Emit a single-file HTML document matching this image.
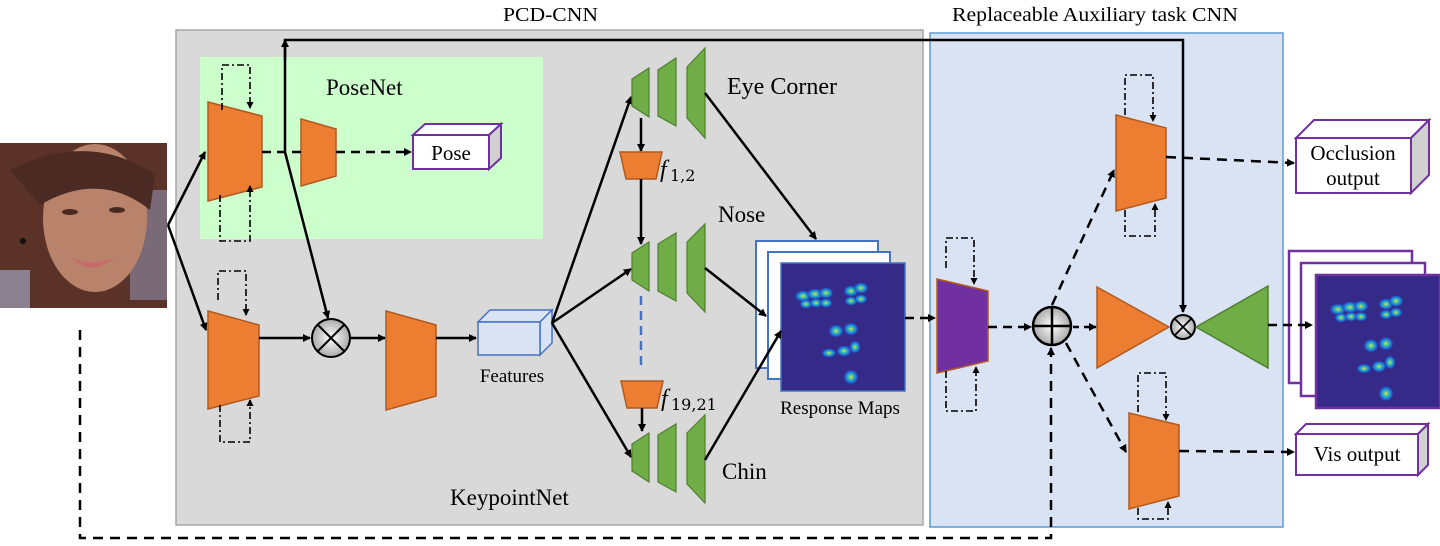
<!DOCTYPE html>
<html><head><meta charset="utf-8"><style>
html,body{margin:0;padding:0;background:#fff;}
svg{display:block;font-family:"Liberation Serif",serif;}
</style></head><body>
<svg width="1440" height="546" viewBox="0 0 1440 546" xmlns="http://www.w3.org/2000/svg">
<defs>
<marker id="a" markerWidth="8" markerHeight="8" refX="7" refY="4" orient="auto" markerUnits="userSpaceOnUse"><path d="M0,0 L8,4 L0,8 z" fill="#000"/></marker>
<marker id="s" markerWidth="7" markerHeight="7" refX="6" refY="3.5" orient="auto" markerUnits="userSpaceOnUse"><path d="M0,0 L7,3.5 L0,7 z" fill="#000"/></marker>
<radialGradient id="cg" cx="50%" cy="50%" r="50%"><stop offset="0" stop-color="#fff"/><stop offset="1" stop-color="#aaa"/></radialGradient>
<radialGradient id="blob" cx="50%" cy="50%" r="50%"><stop offset="0" stop-color="#f5e11e"/><stop offset="0.3" stop-color="#3cc0b0"/><stop offset="0.7" stop-color="#1a6be0"/><stop offset="1" stop-color="#352a87" stop-opacity="0"/></radialGradient>
<g id="heat">
<rect x="0" y="0" width="124" height="128" fill="#352a87"/>
<ellipse cx="22" cy="33" rx="9" ry="6" fill="url(#blob)"/><ellipse cx="34" cy="31" rx="9" ry="6" fill="url(#blob)"/><ellipse cx="45" cy="30" rx="8" ry="6" fill="url(#blob)"/>
<ellipse cx="25" cy="41" rx="7" ry="5" fill="url(#blob)"/><ellipse cx="35" cy="40" rx="7" ry="5" fill="url(#blob)"/><ellipse cx="45" cy="40" rx="7" ry="5" fill="url(#blob)"/>
<ellipse cx="70" cy="28" rx="8" ry="6" fill="url(#blob)"/><ellipse cx="80" cy="25" rx="8" ry="6" fill="url(#blob)"/><ellipse cx="70" cy="38" rx="7" ry="5" fill="url(#blob)"/><ellipse cx="80" cy="36" rx="7" ry="5" fill="url(#blob)"/>
<ellipse cx="55" cy="68" rx="8" ry="7" fill="url(#blob)"/><ellipse cx="70" cy="66" rx="8" ry="7" fill="url(#blob)"/>
<ellipse cx="48" cy="90" rx="8" ry="5" fill="url(#blob)"/><ellipse cx="63" cy="88" rx="8" ry="6" fill="url(#blob)"/><ellipse cx="74" cy="84" rx="6" ry="7" fill="url(#blob)"/>
<ellipse cx="70" cy="114" rx="8" ry="8" fill="url(#blob)"/>
</g>
</defs>

<text x="503" y="21" font-size="20" textLength="95" lengthAdjust="spacingAndGlyphs">PCD-CNN</text>
<text x="952" y="21" font-size="20" textLength="286" lengthAdjust="spacingAndGlyphs">Replaceable Auxiliary task CNN</text>

<rect x="176" y="30" width="747" height="495" fill="#d9d9d9" stroke="#a6a6a6" stroke-width="1.5"/>
<rect x="930" y="33" width="353" height="494" fill="#dae3f3" stroke="#5b9bd5" stroke-width="1.5"/>
<rect x="200" y="57" width="343" height="182" fill="#ccffcc"/>

<!-- face -->
<rect x="0" y="143" width="167" height="165" fill="#5a3228"/>
<rect x="130" y="190" width="37" height="110" fill="#7a6a78"/>
<ellipse cx="95" cy="218" rx="52" ry="74" fill="#b9826a"/>
<path d="M10,170 Q90,130 155,175 L150,210 Q100,170 40,205 Z" fill="#4a2a22"/>
<ellipse cx="70" cy="212" rx="8" ry="3" fill="#4a2a20"/><ellipse cx="117" cy="210" rx="8" ry="3" fill="#4a2a20"/>
<path d="M70,257 Q92,268 115,257 Q92,278 70,257 Z" fill="#c86a6a"/>
<rect x="0" y="270" width="30" height="38" fill="#8a8090"/>
<circle cx="23" cy="241" r="3" fill="#111"/>

<text x="326" y="95" font-size="23">PoseNet</text>
<polygon points="208,102 262,116 262,187 208,201" fill="#ed7d31" stroke="#b05a20" stroke-width="1.5"/>
<polygon points="301,119 336,129 336,176 301,186" fill="#ed7d31" stroke="#b05a20" stroke-width="1.5"/>
<path d="M222,110 V65 H250 V108" fill="none" stroke="#000" stroke-width="1.6" stroke-dasharray="7,3,2,3" marker-end="url(#s)"/>
<path d="M220,195 V241 H250 V186" fill="none" stroke="#000" stroke-width="1.6" stroke-dasharray="7,3,2,3" marker-end="url(#s)"/>
<line x1="262" y1="152" x2="301" y2="152" stroke="#000" stroke-width="2.5" stroke-dasharray="9,6"/>
<line x1="336" y1="152" x2="411" y2="152" stroke="#000" stroke-width="2.5" stroke-dasharray="9,6" marker-end="url(#a)"/>
<polygon points="413,135 425,124 501,124 489,135" fill="#fff" stroke="#7030a0" stroke-width="2"/>
<polygon points="489,135 501,124 501,158 489,169" fill="#d0d0d0" stroke="#7030a0" stroke-width="2"/>
<rect x="413" y="135" width="76" height="34" fill="#fff" stroke="#7030a0" stroke-width="2"/>
<text x="451" y="160" font-size="21" text-anchor="middle">Pose</text>

<line x1="168" y1="225" x2="205" y2="152" stroke="#000" stroke-width="2.5" marker-end="url(#a)"/>
<line x1="168" y1="225" x2="206" y2="330" stroke="#000" stroke-width="2.5" marker-end="url(#a)"/>

<path d="M285,152 V40 H1183 V312" fill="none" stroke="#000" stroke-width="2.5" marker-end="url(#a)"/>
<line x1="285" y1="60" x2="285" y2="40" stroke="#000" stroke-width="2.5" marker-end="url(#a)"/>
<line x1="285" y1="152" x2="328" y2="318" stroke="#000" stroke-width="2.5" marker-end="url(#a)"/>

<polygon points="208,311 259,325 259,396 208,409" fill="#ed7d31" stroke="#b05a20" stroke-width="1.5"/>
<path d="M218,300 V271 H246 V315" fill="none" stroke="#000" stroke-width="1.6" stroke-dasharray="7,3,2,3" marker-end="url(#s)"/>
<path d="M220,405 V442 H250 V400" fill="none" stroke="#000" stroke-width="1.6" stroke-dasharray="7,3,2,3" marker-end="url(#s)"/>
<line x1="259" y1="338" x2="310" y2="338" stroke="#000" stroke-width="2.5" marker-end="url(#a)"/>
<circle cx="331" cy="338" r="19" fill="url(#cg)" stroke="#000" stroke-width="2"/>
<line x1="318" y1="325" x2="344" y2="351" stroke="#000" stroke-width="2"/><line x1="344" y1="325" x2="318" y2="351" stroke="#000" stroke-width="2"/>
<line x1="350" y1="338" x2="385" y2="338" stroke="#000" stroke-width="2.5" marker-end="url(#a)"/>
<polygon points="386,311 436,325 436,396 386,410" fill="#ed7d31" stroke="#b05a20" stroke-width="1.5"/>
<line x1="436" y1="338" x2="476" y2="338" stroke="#000" stroke-width="2.5" marker-end="url(#a)"/>
<polygon points="478,322 490,310 552,310 540,322" fill="#dae3f3" stroke="#4472c4" stroke-width="1.5"/>
<polygon points="540,322 552,310 552,343 540,355" fill="#dae3f3" stroke="#4472c4" stroke-width="1.5"/>
<rect x="478" y="322" width="62" height="33" fill="#dae3f3" stroke="#4472c4" stroke-width="1.5"/>
<text x="512" y="382" font-size="19" text-anchor="middle">Features</text>
<text x="450" y="505" font-size="23">KeypointNet</text>

<line x1="552" y1="323" x2="631" y2="97" stroke="#000" stroke-width="2.5" marker-end="url(#a)"/>
<line x1="552" y1="323" x2="631" y2="269" stroke="#000" stroke-width="2.5" marker-end="url(#a)"/>
<line x1="552" y1="323" x2="631" y2="457" stroke="#000" stroke-width="2.5" marker-end="url(#a)"/>
<g fill="#70ad47" stroke="#507e32" stroke-width="1.2">
<polygon points="632,79 649,68 649,117 632,106"/><polygon points="658,70 676,58 676,126 658,116"/><polygon points="687,67 705,48 705,138 687,118"/>
<polygon points="632,253 649,242 649,291 632,280"/><polygon points="658,244 676,233 676,301 658,291"/><polygon points="687,242 705,224 705,312 687,293"/>
<polygon points="632,444 649,433 649,482 632,471"/><polygon points="658,435 676,424 676,492 658,482"/><polygon points="687,433 705,415 705,503 687,484"/>
</g>
<text x="727" y="94" font-size="24">Eye Corner</text>
<text x="718" y="222" font-size="23">Nose</text>
<text x="722" y="479" font-size="23">Chin</text>
<line x1="641" y1="118" x2="641" y2="151" stroke="#000" stroke-width="2.5" marker-end="url(#a)"/>
<polygon points="620,152 662,152 656,179 626,179" fill="#ed7d31" stroke="#b05a20" stroke-width="1.5"/>
<text x="660" y="177" font-size="24" font-style="italic">f</text><text x="670" y="181" font-size="16" font-family="DejaVu Serif">1,2</text>
<line x1="641" y1="179" x2="641" y2="244" stroke="#000" stroke-width="2.5" marker-end="url(#a)"/>
<line x1="641" y1="296" x2="641" y2="370" stroke="#4472c4" stroke-width="2.5" stroke-dasharray="9,6"/>
<polygon points="621,381 663,381 657,408 627,408" fill="#ed7d31" stroke="#b05a20" stroke-width="1.5"/>
<text x="661" y="406" font-size="24" font-style="italic">f</text><text x="671" y="410" font-size="16" font-family="DejaVu Serif">19,21</text>
<line x1="642" y1="408" x2="642" y2="431" stroke="#000" stroke-width="2.5" marker-end="url(#a)"/>

<rect x="756" y="241" width="122" height="127" fill="#fff" stroke="#4472c4" stroke-width="2"/>
<rect x="768" y="252" width="122" height="127" fill="#fff" stroke="#4472c4" stroke-width="2"/>
<use href="#heat" transform="translate(781,263)"/>
<rect x="781" y="263" width="124" height="128" fill="none" stroke="#4472c4" stroke-width="1.5"/>
<line x1="705" y1="93" x2="816" y2="239" stroke="#000" stroke-width="2.5" marker-end="url(#a)"/>
<line x1="705" y1="268" x2="766" y2="316" stroke="#000" stroke-width="2.5" marker-end="url(#a)"/>
<line x1="705" y1="460" x2="781" y2="331" stroke="#000" stroke-width="2.5" marker-end="url(#a)"/>
<text x="840" y="414" font-size="19" text-anchor="middle">Response Maps</text>

<line x1="905" y1="318" x2="935" y2="318" stroke="#000" stroke-width="2.5" stroke-dasharray="9,6" marker-end="url(#a)"/>
<polygon points="937,279 988,291 988,361 937,373" fill="#7030a0" stroke="#b05a20" stroke-width="1.5"/>
<path d="M946,268 V238 H974 V284" fill="none" stroke="#000" stroke-width="1.6" stroke-dasharray="7,3,2,3" marker-end="url(#s)"/>
<path d="M946,371 V411 H976 V367" fill="none" stroke="#000" stroke-width="1.6" stroke-dasharray="7,3,2,3" marker-end="url(#s)"/>
<line x1="988" y1="327" x2="1031" y2="327" stroke="#000" stroke-width="2.5" stroke-dasharray="9,6" marker-end="url(#a)"/>
<circle cx="1052" cy="326" r="19" fill="url(#cg)" stroke="#000" stroke-width="2.5"/>
<line x1="1033" y1="326" x2="1071" y2="326" stroke="#000" stroke-width="2.5"/><line x1="1052" y1="307" x2="1052" y2="345" stroke="#000" stroke-width="2.5"/>
<line x1="1073" y1="327" x2="1096" y2="327" stroke="#000" stroke-width="2.5" stroke-dasharray="6,5" marker-end="url(#a)"/>
<polygon points="1097,287 1169,327 1097,368" fill="#ed7d31" stroke="#b05a20" stroke-width="1.5"/>
<circle cx="1183" cy="327" r="12" fill="url(#cg)" stroke="#000" stroke-width="2"/>
<line x1="1175" y1="319" x2="1191" y2="335" stroke="#000" stroke-width="1.8"/><line x1="1191" y1="319" x2="1175" y2="335" stroke="#000" stroke-width="1.8"/>
<polygon points="1196,327 1268,286 1268,368" fill="#70ad47" stroke="#507e32" stroke-width="1.5"/>

<line x1="1052" y1="305" x2="1114" y2="170" stroke="#000" stroke-width="2.5" stroke-dasharray="10,7" marker-end="url(#a)"/>
<polygon points="1116,115 1166,128 1166,198 1116,211" fill="#ed7d31" stroke="#b05a20" stroke-width="1.5"/>
<path d="M1125,115 V75 H1153 V121" fill="none" stroke="#000" stroke-width="1.6" stroke-dasharray="7,3,2,3" marker-end="url(#s)"/>
<path d="M1125,210 V236 H1155 V204" fill="none" stroke="#000" stroke-width="1.6" stroke-dasharray="7,3,2,3" marker-end="url(#s)"/>
<line x1="1166" y1="157" x2="1294" y2="163" stroke="#000" stroke-width="2.5" stroke-dasharray="10,7" marker-end="url(#a)"/>
<polygon points="1296,138 1314,120 1429,120 1411,138" fill="#fff" stroke="#7030a0" stroke-width="2"/>
<polygon points="1411,138 1429,120 1429,175 1411,193" fill="#d0d0d0" stroke="#7030a0" stroke-width="2"/>
<rect x="1296" y="138" width="115" height="55" fill="#fff" stroke="#7030a0" stroke-width="2"/>
<text x="1353" y="160" font-size="21" text-anchor="middle">Occlusion</text>
<text x="1353" y="185" font-size="21" text-anchor="middle">output</text>

<rect x="1289" y="251" width="123" height="132" fill="#fff" stroke="#7030a0" stroke-width="2.5"/>
<rect x="1301" y="263" width="124" height="133" fill="#fff" stroke="#7030a0" stroke-width="2.5"/>
<use href="#heat" transform="translate(1316,275) scale(1,1.04)"/>
<rect x="1316" y="275" width="124" height="133" fill="none" stroke="#7030a0" stroke-width="2.5"/>
<line x1="1268" y1="325" x2="1312" y2="325" stroke="#000" stroke-width="2.5" stroke-dasharray="9,6" marker-end="url(#a)"/>

<line x1="1066" y1="343" x2="1126" y2="452" stroke="#000" stroke-width="2.5" stroke-dasharray="10,7" marker-end="url(#a)"/>
<polygon points="1129,413 1179,425 1179,496 1129,509" fill="#ed7d31" stroke="#b05a20" stroke-width="1.5"/>
<path d="M1138,412 V373 H1166 V420" fill="none" stroke="#000" stroke-width="1.6" stroke-dasharray="7,3,2,3" marker-end="url(#s)"/>
<path d="M1138,508 V519 H1168 V502" fill="none" stroke="#000" stroke-width="1.6" stroke-dasharray="7,3,2,3" marker-end="url(#s)"/>
<line x1="1179" y1="451" x2="1294" y2="452" stroke="#000" stroke-width="2.5" stroke-dasharray="10,7" marker-end="url(#a)"/>
<polygon points="1296,434 1306,424 1428,424 1418,434" fill="#fff" stroke="#7030a0" stroke-width="2"/>
<polygon points="1418,434 1428,424 1428,465 1418,475" fill="#d0d0d0" stroke="#7030a0" stroke-width="2"/>
<rect x="1296" y="434" width="122" height="41" fill="#fff" stroke="#7030a0" stroke-width="2"/>
<text x="1357" y="461" font-size="21" text-anchor="middle">Vis output</text>

<path d="M80,330 V538 H1051 V348" fill="none" stroke="#000" stroke-width="2.5" stroke-dasharray="10,7" marker-end="url(#a)"/>
</svg>
</body></html>
